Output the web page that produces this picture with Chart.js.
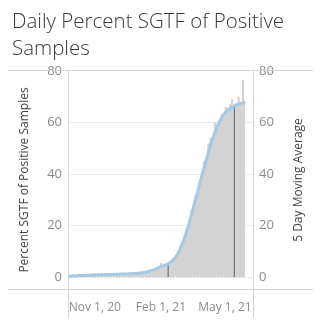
<!DOCTYPE html>
<html>
<head>
<meta charset="utf-8">
<script src="https://cdn.jsdelivr.net/npm/chart.js@4"></script>
<style>
  html, body { margin: 0; padding: 0; background: #fff; }
  #wrap { position: relative; width: 333px; height: 326px; }
  #title {
    position: absolute; left: 12px; top: 7px; width: 310px;
    font-family: 'Open Sans', sans-serif; font-weight: 300;
    font-size: 20.5px; line-height: 27px; color: #3a3a3a;
  }
  canvas { position: absolute; left: 0; top: 0; }
</style>
</head>
<body>
<div id="wrap">
  <canvas id="chart" width="333" height="326"></canvas>
  <div id="title">Daily Percent SGTF of Positive Samples</div>
</div>
<script>
//days counted from Nov 1, 2020, every 3 days
const days = [];
for (let d = -37; d <= 209; d += 3) days.push(d);

//5 day moving average (%)
const movingAvg = [
  0.4, 0.4, 0.5, 0.5, 0.5, 0.6, 0.6, 0.6, 0.7, 0.7,
  0.7, 0.8, 0.8, 0.8, 0.9, 0.9, 0.9, 1.0, 1.0, 1.0,
  1.0, 1.1, 1.1, 1.1, 1.2, 1.2, 1.2, 1.2, 1.3, 1.3,
  1.4, 1.4, 1.5, 1.6, 1.7, 1.8, 2.0, 2.2, 2.4, 2.7,
  3.0, 3.3, 3.7, 4.1, 4.4, 4.7, 5.0, 5.6, 6.2, 7.0,
  8.0, 9.4, 11.2, 13.2, 15.5, 18.0, 20.8, 23.8, 27.0, 30.0,
  33.0, 36.5, 39.5, 42.5, 45.5, 48.5, 51.2, 53.8, 56.2, 58.3,
  60.0, 61.6, 63.0, 64.0, 64.8, 65.4, 65.9, 66.4, 66.8, 67.2,
  67.4, 67.6, 68.0
];

//daily percent SGTF (%)
const dailyPct = [
  0.3, 0.5, 0.4, 0.6, 0.5, 0.5, 0.7, 0.6, 0.6, 0.8,
  0.7, 0.8, 0.9, 0.7, 0.9, 1.0, 0.8, 1.0, 1.1, 0.9,
  1.1, 1.0, 1.2, 1.1, 1.2, 1.3, 1.1, 1.3, 1.2, 1.4,
  1.3, 1.5, 1.6, 1.6, 1.8, 1.9, 2.1, 2.3, 2.6, 2.8,
  3.2, 3.4, 3.9, 5.5, 4.5, 4.9, 5.2, 5.8, 6.5, 7.3,
  8.4, 9.8, 12.5, 13.5, 16.0, 18.5, 21.5, 26.0, 27.5, 32.0,
  33.5, 37.0, 40.0, 45.0, 46.0, 52.0, 54.0, 54.5, 60.0, 59.0,
  60.5, 63.0, 63.5, 66.0, 65.5, 67.0, 69.0, 67.0, 67.5, 70.0,
  68.0, 76.5, 68.5
];

//dates with drop lines
const markerDays = [102, 194];
const markerTops = [5.2, 66.2];

//axis ticks
const yTicks = [0, 20, 40, 60, 80];
const xTickDays = [0, 92, 181];
const xTickLabels = ['Nov 1, 20', 'Feb 1, 21', 'May 1, 21'];

const font = { family: "'Open Sans', sans-serif", size: 12 };
const tickColor = '#8c8c8c';
const lineGray = '#d4d4d4';

const pts = (ys) => days.map((d, i) => ({ x: d, y: ys[i] }));

const markerSets = markerDays.map((d, i) => ({
  type: 'line',
  data: [{ x: d, y: 0 }, { x: d, y: markerTops[i] }],
  borderColor: '#4f6479',
  borderWidth: 1,
  pointRadius: 0,
  yAxisID: 'y',
  order: 1,
}));

//frame lines and right axis title
const framePlugin = {
  id: 'frame',
  beforeDatasetsDraw(chart) {
    const { ctx, chartArea: a, scales } = chart;
    const y0 = scales.y.getPixelForValue(0);
    ctx.save();
    ctx.strokeStyle = '#c8c8c8';
    ctx.lineWidth = 1;
    ctx.setLineDash([1, 2]);
    ctx.beginPath();
    ctx.moveTo(a.left, y0 + 0.5);
    ctx.lineTo(a.right, y0 + 0.5);
    ctx.stroke();
    ctx.restore();
  },
  afterDraw(chart) {
    const { ctx, chartArea: a } = chart;
    ctx.save();
    ctx.strokeStyle = lineGray;
    ctx.lineWidth = 1;
    ctx.beginPath();
    ctx.moveTo(8, a.top - 0.5);
    ctx.lineTo(313, a.top - 0.5);
    ctx.moveTo(8, a.bottom + 0.5);
    ctx.lineTo(313, a.bottom + 0.5);
    ctx.moveTo(a.left + 0.5, a.top);
    ctx.lineTo(a.left + 0.5, 318);
    ctx.moveTo(a.right - 0.5, a.top);
    ctx.lineTo(a.right - 0.5, 318);
    ctx.stroke();

    ctx.fillStyle = '#444';
    ctx.font = `12px ${font.family}`;
    ctx.textAlign = 'center';
    ctx.textBaseline = 'middle';
    ctx.translate(299, (a.top + a.bottom) / 2);
    ctx.rotate(-Math.PI / 2);
    ctx.fillText('5 Day Moving Average', 0, 0);
    ctx.restore();
  },
};

const yAxis = (pos, width, showTitle) => ({
  position: pos,
  min: -4.6,
  max: 80,
  afterBuildTicks: (scale) => {
    scale.ticks = yTicks.map((v) => ({ value: v }));
  },
  afterFit: (scale) => {
    scale.width = width;
  },
  ticks: { color: tickColor, font: { ...font, size: 13 }, padding: pos === 'left' ? 6 : 5 },
  grid: {
    display: pos === 'left',
    drawTicks: false,
    color: (c) => (c.tick.value === 20 || c.tick.value === 40 || c.tick.value === 60 ? '#ebebeb' : 'transparent'),
  },
  border: { display: false },
  title: {
    display: showTitle,
    text: 'Percent SGTF of Positive Samples',
    color: '#444',
    font,
    padding: { top: 9, bottom: 0 },
  },
});

new Chart(document.querySelector('#chart'), {
  type: 'line',
  data: {
    datasets: [
      {
        label: '5 Day Moving Average',
        data: pts(movingAvg),
        borderColor: '#a7c9e4',
        borderWidth: 3,
        pointRadius: 0,
        tension: 0.3,
        yAxisID: 'y2',
        order: 0,
      },
      ...markerSets,
      {
        label: 'Daily Percent SGTF',
        data: pts(dailyPct),
        borderWidth: 0,
        backgroundColor: '#d3d3d3',
        fill: 'origin',
        stepped: 'middle',
        pointRadius: 0,
        yAxisID: 'y',
        order: 2,
      },
    ],
  },
  options: {
    responsive: false,
    animation: false,
    layout: { padding: { left: 8, right: 20, top: 71, bottom: 0 } },
    plugins: { legend: { display: false }, tooltip: { enabled: false } },
    scales: {
      x: {
        type: 'linear',
        min: -37.3,
        max: 221.4,
        afterBuildTicks: (scale) => {
          scale.ticks = xTickDays.map((v) => ({ value: v }));
        },
        afterFit: (scale) => {
          scale.height = 37;
        },
        ticks: {
          color: tickColor,
          font,
          padding: 3,
          autoSkip: false,
          maxRotation: 0,
          callback: (v) => xTickLabels[xTickDays.indexOf(v)],
        },
        grid: { display: false },
        border: { display: false },
      },
      y: yAxis('left', 60, true),
      y2: yAxis('right', 59, false),
    },
  },
  plugins: [framePlugin],
});
</script>
</body>
</html>
